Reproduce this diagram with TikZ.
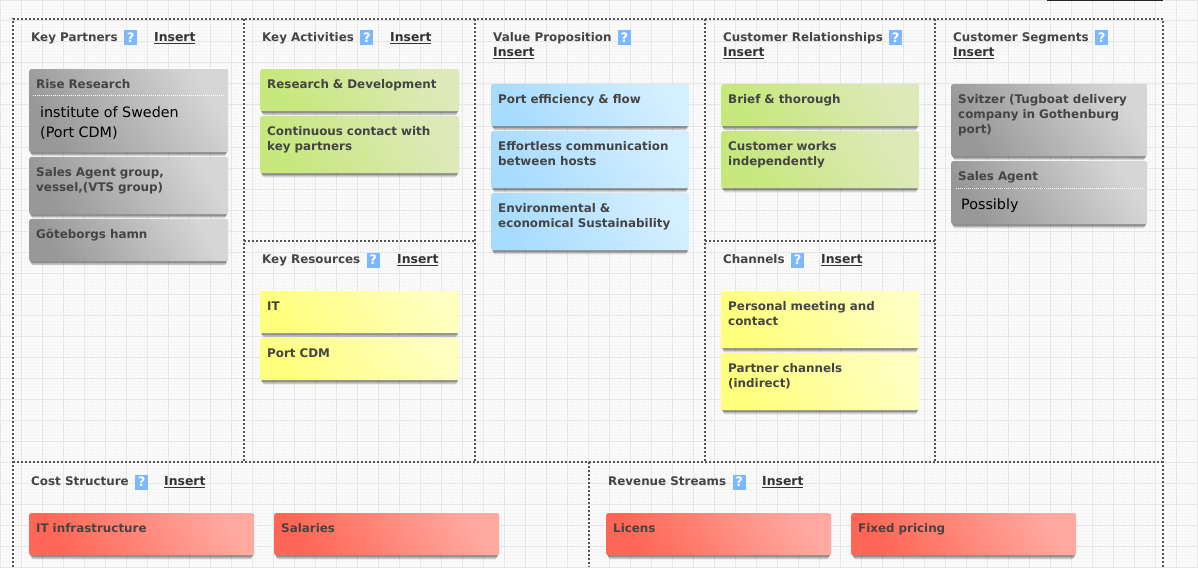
\documentclass[tikz,border=0pt]{standalone}
\usepackage{fontspec}
\setmainfont{DejaVu Sans}
\usetikzlibrary{positioning,shadows}
\definecolor{bgcol}{HTML}{FBFBFB}
\definecolor{gridcol}{HTML}{E6E6E6}
\definecolor{finecol}{HTML}{F6F6F6}
\definecolor{framecol}{HTML}{555555}
\definecolor{inkcol}{HTML}{444444}
\definecolor{helpcol}{HTML}{7AB8FF}
\definecolor{greylow}{HTML}{989898}
\definecolor{greyhigh}{HTML}{D6D6D6}
\definecolor{greenlow}{HTML}{C6E87C}
\definecolor{greenhigh}{HTML}{DEE9BA}
\definecolor{bluelow}{HTML}{A8DCFF}
\definecolor{bluehigh}{HTML}{D4EFFF}
\definecolor{yellowlow}{HTML}{FFFF7E}
\definecolor{yellowhigh}{HTML}{FFFFC0}
\definecolor{redlow}{HTML}{FF6655}
\definecolor{redhigh}{HTML}{FFA9A0}
\tikzset{
  cardbox/.style={anchor=north west,rounded corners=2pt,inner xsep=7pt,inner ysep=9.5pt,
    text height=10pt,text=inkcol,align=left,
    font=\fontsize{11.9}{15}\selectfont\bfseries,
    general shadow={fill=black,opacity=.06,shadow yshift=-5pt,shadow scale=.98},
    general shadow={fill=black,opacity=.14,shadow yshift=-4pt,shadow scale=.985},
    general shadow={fill=black,opacity=.28,shadow yshift=-2.5pt,shadow scale=.99}},
  cardw/.style={text width=\dimexpr#1pt-14pt\relax},
  cardh/.style={text depth=\dimexpr#1pt-29pt\relax},
  greycard/.style={cardbox,bottom color=greylow,top color=greyhigh,shading angle=-58},
  greencard/.style={cardbox,bottom color=greenlow,top color=greenhigh,shading angle=-58},
  bluecard/.style={cardbox,bottom color=bluelow,top color=bluehigh,shading angle=-58},
  yellowcard/.style={cardbox,bottom color=yellowlow,top color=yellowhigh,shading angle=-58},
  redcard/.style={cardbox,bottom color=redlow,top color=redhigh,shading angle=-58},
  headtxt/.style={anchor=west,inner sep=0pt,text height=9.5pt,text depth=2.5pt,text=inkcol,
    font=\fontsize{11.9}{15}\selectfont\bfseries},
  helpbox/.style={fill=helpcol,text=white,inner sep=0pt,minimum width=13pt,minimum height=15pt,
    font=\fontsize{13}{13}\selectfont\bfseries},
  inserttxt/.style={headtxt,text=black!80,font=\fontsize{12.4}{15}\selectfont\bfseries},
  bodytxt/.style={anchor=north west,inner sep=0pt,align=left,text=black,
    font=\fontsize{14.3}{20}\selectfont},
  frameline/.style={draw=framecol,line width=2pt,dash pattern=on 2pt off 2pt},
  sepline/.style={draw=white,line width=1pt,dash pattern=on 1pt off 1pt}
}
\newcommand{\ins}{\underline{Insert}}
\begin{document}
\begin{tikzpicture}[x=1pt,y=-1pt]
  \useasboundingbox (0,0) rectangle (1198,567);
  \fill[bgcol] (0,0) rectangle (1198,567);
  \draw[finecol,line width=.4pt] (0,0) grid[xstep=3pt,ystep=3pt] (1198,567);
  \draw[gridcol,line width=1pt] (0,0) grid[xstep=21pt,ystep=21pt] (1198,567);
  % top link cut off by the page edge
  \draw[black!85,line width=1pt] (1047,1) -- (1163,1);
  % panels
  \draw[frameline] (13,567) -- (13,19) -- (1163,19) -- (1163,567);
  \draw[frameline] (13,462) -- (1163,462);
  \draw[frameline] (244,19) -- (244,462);
  \draw[frameline] (475,19) -- (475,462);
  \draw[frameline] (705,19) -- (705,462);
  \draw[frameline] (935,19) -- (935,462);
  \draw[frameline] (244,241) -- (475,241);
  \draw[frameline] (705,241) -- (935,241);
  \draw[frameline] (589,462) -- (589,567);
  % headings
  \node[headtxt] (partnersHead) at (31,38) {Key Partners};
  \node[helpbox,right=6pt of partnersHead] (partnersHelp) {?};
  \node[inserttxt] (partnersIns) at (154,38) {\ins};
  \node[headtxt] (activitiesHead) at (262,38) {Key Activities};
  \node[helpbox,right=6pt of activitiesHead] (activitiesHelp) {?};
  \node[inserttxt] (activitiesIns) at (390,38) {\ins};
  \node[headtxt] (resourcesHead) at (262,260) {Key Resources};
  \node[helpbox,right=6pt of resourcesHead] (resourcesHelp) {?};
  \node[inserttxt] (resourcesIns) at (397,260) {\ins};
  \node[headtxt] (valueHead) at (493,38) {Value Proposition};
  \node[helpbox,right=6pt of valueHead] (valueHelp) {?};
  \node[inserttxt] (valueIns) at (493,53) {\ins};
  \node[headtxt] (relationsHead) at (723,38) {Customer Relationships};
  \node[helpbox,right=6pt of relationsHead] (relationsHelp) {?};
  \node[inserttxt] (relationsIns) at (723,53) {\ins};
  \node[headtxt] (channelsHead) at (723,260) {Channels};
  \node[helpbox,right=6pt of channelsHead] (channelsHelp) {?};
  \node[inserttxt] (channelsIns) at (821,260) {\ins};
  \node[headtxt] (segmentsHead) at (953,38) {Customer Segments};
  \node[helpbox,right=6pt of segmentsHead] (segmentsHelp) {?};
  \node[inserttxt] (segmentsIns) at (953,53) {\ins};
  \node[headtxt] (costHead) at (31,482) {Cost Structure};
  \node[helpbox,right=6pt of costHead] (costHelp) {?};
  \node[inserttxt] (costIns) at (164,482) {\ins};
  \node[headtxt] (revenueHead) at (608,482) {Revenue Streams};
  \node[helpbox,right=6pt of revenueHead] (revenueHelp) {?};
  \node[inserttxt] (revenueIns) at (762,482) {\ins};
  % key partners
  \node[greycard,cardw=199,cardh=83] (rise) at (29,69) {Rise Research};
  \draw[sepline] ([xshift=4pt,yshift=-27pt]rise.north west) -- ([xshift=-5pt,yshift=-27pt]rise.north east);
  \node[bodytxt] (riseBody) at (40,106) {institute of Sweden\\(Port CDM)};
  \node[greycard,cardw=199,cardh=57] (salesGroup) at (29,157) {Sales Agent group,\\vessel,(VTS group)};
  \node[greycard,cardw=199,cardh=42] (hamn) at (29,219) {Göteborgs hamn};
  % key activities
  \node[greencard,cardw=199,cardh=42] (research) at (260,69) {Research \& Development};
  \node[greencard,cardw=199,cardh=57] (contact) at (260,116) {Continuous contact with\\key partners};
  % key resources
  \node[yellowcard,cardw=199,cardh=42] (it) at (260,291) {IT};
  \node[yellowcard,cardw=199,cardh=42] (portCdm) at (260,338) {Port CDM};
  % value proposition
  \node[bluecard,cardw=198,cardh=42] (flow) at (491,84) {Port efficiency \& flow};
  \node[bluecard,cardw=198,cardh=57] (hosts) at (491,131) {Effortless communication\\between hosts};
  \node[bluecard,cardw=198,cardh=57] (sustain) at (491,193) {Environmental \&\\economical Sustainability};
  % customer relationships
  \node[greencard,cardw=198,cardh=42] (brief) at (721,84) {Brief \& thorough};
  \node[greencard,cardw=198,cardh=57] (works) at (721,131) {Customer works\\independently};
  % channels
  \node[yellowcard,cardw=198,cardh=57] (meeting) at (721,291) {Personal meeting and\\contact};
  \node[yellowcard,cardw=198,cardh=57] (indirect) at (721,353) {Partner channels\\(indirect)};
  % customer segments
  \node[greycard,cardw=196,cardh=72] (svitzer) at (951,84) {Svitzer (Tugboat delivery\\company in Gothenburg\\port)};
  \node[greycard,cardw=196,cardh=63] (salesAgent) at (951,161) {Sales Agent};
  \draw[sepline] ([xshift=5pt,yshift=-27pt]salesAgent.north west) -- ([xshift=-5pt,yshift=-27pt]salesAgent.north east);
  \node[bodytxt] (salesBody) at (961,198) {Possibly};
  % cost and revenue
  \node[redcard,cardw=225,cardh=42] (infra) at (29,513) {IT infrastructure};
  \node[redcard,cardw=225,cardh=42] (salaries) at (274,513) {Salaries};
  \node[redcard,cardw=225,cardh=42] (licens) at (606,513) {Licens};
  \node[redcard,cardw=225,cardh=42] (fixed) at (851,513) {Fixed pricing};
\end{tikzpicture}
\end{document}
